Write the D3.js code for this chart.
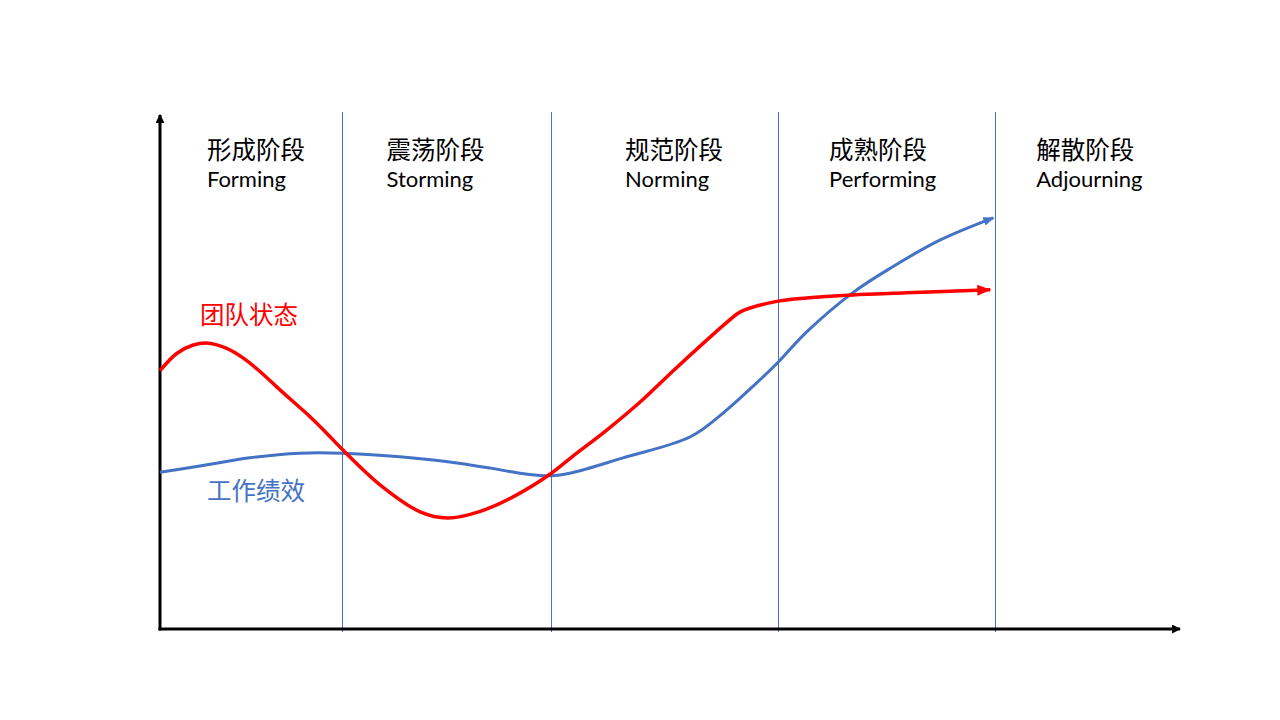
<!DOCTYPE html>
<html>
<head>
<meta charset="utf-8">
<script src="https://cdn.jsdelivr.net/npm/d3@7"></script>
<style>
  body { margin: 0; background: #fff; }
  svg { display: block; }
</style>
</head>
<body>
<div id="chart"></div>
<script>
// stages along the x axis (boundaries in the same 0-100 units as the curves)
const stageNames = ['形成阶段', '震荡阶段', '规范阶段', '成熟阶段', '解散阶段'];
const stageEnglish = ['Forming', 'Storming', 'Norming', 'Performing', 'Adjourning'];
const stageLabelX = [4.6, 22.2, 45.6, 65.6, 85.9];
const stageBoundaries = [17.8, 38.3, 60.6, 81.9];

// 团队状态 (red)
const teamX = [0, 1.64, 3.26, 4.74, 6.54, 8.17, 9.8, 11.44, 13.07, 14.71, 16.34, 17.84, 21.6, 25.5, 28.2, 31.4, 34.8, 38.3, 40.4, 43.8, 47.1, 50.4, 53.6, 55.6, 56.9, 60.1, 63.4, 67.9, 73.2, 81.4];
const teamY = [50.25, 53.6, 55.25, 55.6, 54.6, 52.7, 50.1, 47.1, 44.2, 41.3, 38.1, 35.0, 28.0, 22.8, 21.6, 22.9, 25.9, 30.2, 33.5, 38.7, 44.2, 50.4, 56.2, 59.7, 61.7, 63.6, 64.4, 65.0, 65.4, 66.0];

// 工作绩效 (blue)
const perfX = [0, 3.9, 8.8, 13.7, 17.8, 23.5, 28.4, 32.4, 35.0, 38.3, 40.4, 45.4, 52.0, 55.2, 58.5, 60.6, 63.4, 67.9, 71.6, 76.5, 81.7];
const perfY = [30.5, 31.7, 33.3, 34.2, 34.2, 33.5, 32.5, 31.3, 30.4, 29.8, 30.4, 33.3, 37.4, 42.0, 47.9, 51.9, 57.8, 65.4, 70.2, 75.7, 80.0];

const width = 1280;
const height = 720;
const margin = { top: 115, bottom: 91, left: 160, right: 100 };

const svg = d3.select('#chart')
    .append('svg')
    .attr('width', width)
    .attr('height', height);

const x = d3.scaleLinear()
    .domain([0, 100])
    .range([margin.left, width - margin.right]);

const y = d3.scaleLinear()
    .domain([0, 100])
    .range([height - margin.bottom, margin.top]);

const defs = svg.append('defs');
function arrow(id, color, w, h) {
    defs.append('marker')
        .attr('id', id)
        .attr('viewBox', `0 0 ${w} ${h}`)
        .attr('refX', w - 1)
        .attr('refY', h / 2)
        .attr('markerUnits', 'userSpaceOnUse')
        .attr('markerWidth', w)
        .attr('markerHeight', h)
        .attr('orient', 'auto')
        .append('path')
        .attr('d', `M0,0L${w},${h / 2}L0,${h}Z`)
        .attr('fill', color);
}
arrow('arrowBlack', '#000', 9, 9);
arrow('arrowRed', '#ff0000', 14, 11);
arrow('arrowBlue', '#4472c4', 11, 9);

// stage dividers
svg.append('g')
    .selectAll('line')
    .data(stageBoundaries)
    .join('line')
    .attr('x1', d => Math.round(x(d)) + 0.5)
    .attr('x2', d => Math.round(x(d)) + 0.5)
    .attr('y1', 112)
    .attr('y2', 632)
    .attr('stroke', '#4472c4')
    .attr('stroke-width', 1);

// axes
svg.append('line')
    .attr('x1', x(0)).attr('x2', x(0))
    .attr('y1', y(0) + 1.5).attr('y2', y(100))
    .attr('stroke', '#000').attr('stroke-width', 3)
    .attr('marker-end', 'url(#arrowBlack)');
svg.append('line')
    .attr('x1', x(0) - 1.5).attr('x2', x(100))
    .attr('y1', y(0)).attr('y2', y(0))
    .attr('stroke', '#000').attr('stroke-width', 3)
    .attr('marker-end', 'url(#arrowBlack)');

// stage labels
const labels = svg.append('g');
labels.selectAll('text.cn')
    .data(stageNames)
    .join('text')
    .attr('class', 'cn')
    .attr('x', (d, i) => x(stageLabelX[i]))
    .attr('y', 159)
    .attr('font-family', '"Noto Sans CJK SC", sans-serif')
    .attr('font-size', '24.5px')
    .attr('fill', '#000')
    .text(d => d);
labels.selectAll('text.en')
    .data(stageEnglish)
    .join('text')
    .attr('class', 'en')
    .attr('x', (d, i) => x(stageLabelX[i]))
    .attr('y', 187)
    .attr('font-family', 'Lato, "Open Sans", sans-serif')
    .attr('font-size', '22px')
    .attr('fill', '#000')
    .text(d => d);

// curves
const line = d3.line()
    .x(d => x(d[0]))
    .y(d => y(d[1]))
    .curve(d3.curveCatmullRom.alpha(0.5));

svg.append('path')
    .datum(d3.zip(perfX, perfY))
    .attr('d', line)
    .attr('fill', 'none')
    .attr('stroke', '#4472c4')
    .attr('stroke-width', 3)
    .attr('marker-end', 'url(#arrowBlue)');

svg.append('path')
    .datum(d3.zip(teamX, teamY))
    .attr('d', line)
    .attr('fill', 'none')
    .attr('stroke', '#ff0000')
    .attr('stroke-width', 3.5)
    .attr('marker-end', 'url(#arrowRed)');

// series labels
svg.append('text')
    .attr('x', 200).attr('y', 324)
    .attr('font-family', '"Noto Sans CJK SC", sans-serif')
    .attr('font-size', '24.5px')
    .attr('fill', '#ff0000')
    .text('团队状态');
svg.append('text')
    .attr('x', 207).attr('y', 500)
    .attr('font-family', '"Noto Sans CJK SC", sans-serif')
    .attr('font-size', '24.5px')
    .attr('fill', '#4472c4')
    .text('工作绩效');
</script>
</body>
</html>
